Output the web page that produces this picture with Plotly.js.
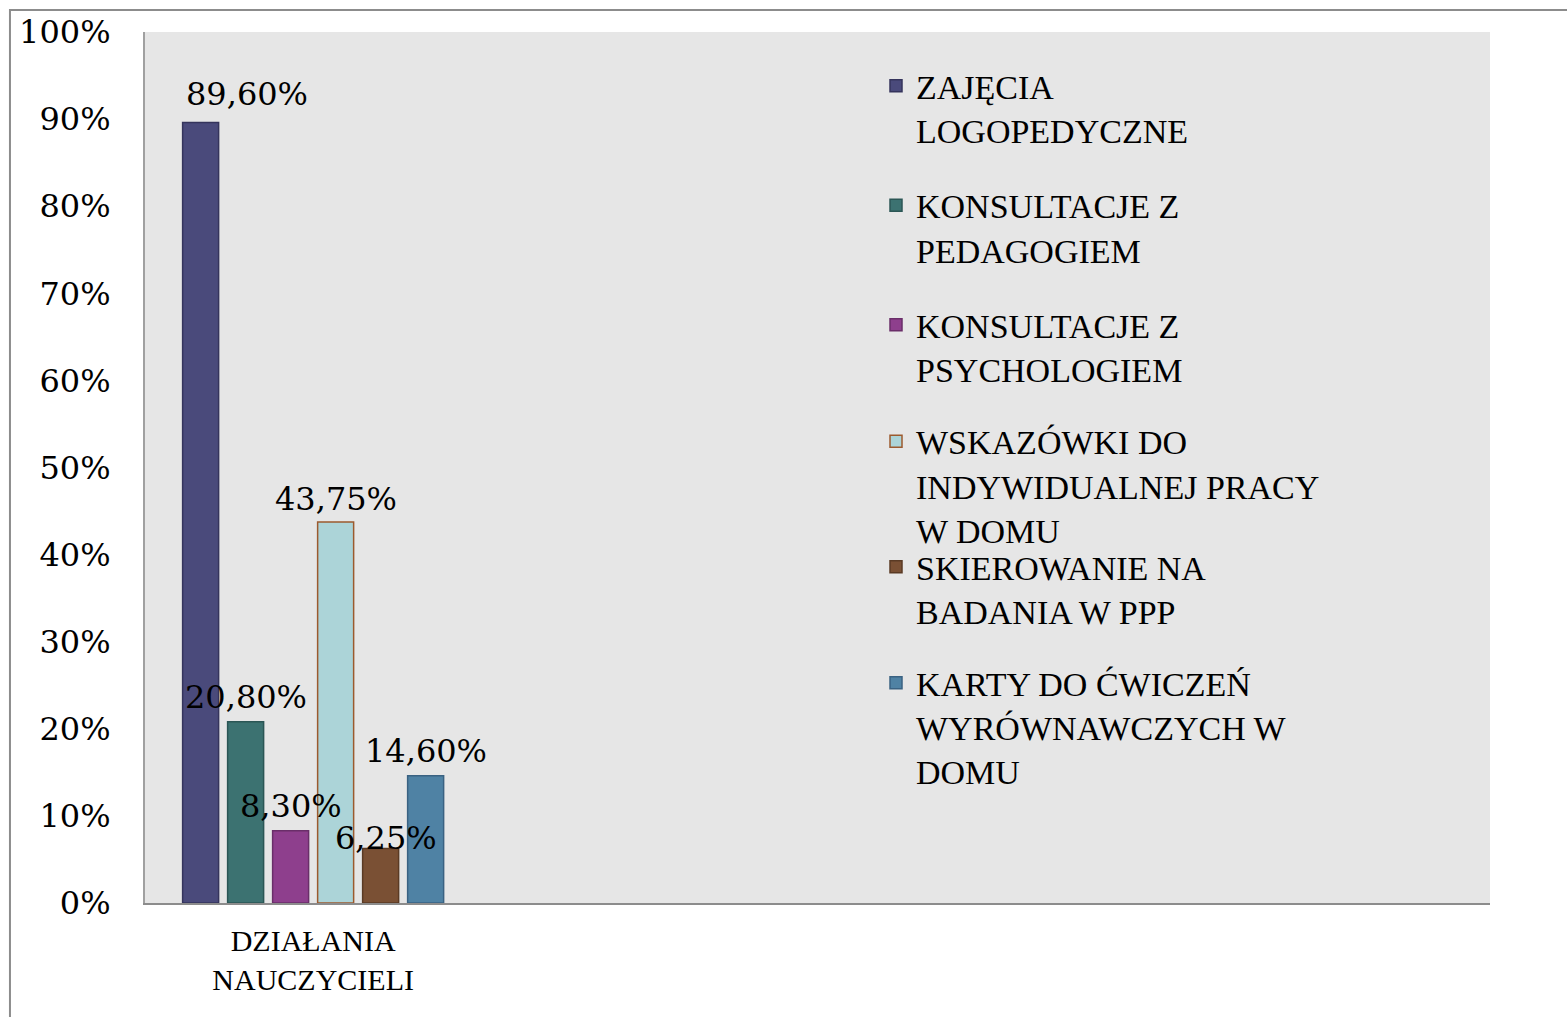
<!DOCTYPE html>
<html>
<head>
<meta charset="utf-8">
<script src="https://cdn.plot.ly/plotly-3.0.1.min.js"></script>
<style>html,body{margin:0;padding:0;background:#fff;}#chart{width:1567px;height:1017px;}</style>
</head>
<body>
<div id="chart"></div>
<script>
const categories = ['DZIAŁANIA<br>NAUCZYCIELI'];
const categoryPositions = [0];
const seriesNames = [
  'ZAJĘCIA<br>LOGOPEDYCZNE',
  'KONSULTACJE Z<br>PEDAGOGIEM',
  'KONSULTACJE Z<br>PSYCHOLOGIEM',
  'WSKAZÓWKI DO<br>INDYWIDUALNEJ PRACY<br>W DOMU',
  'SKIEROWANIE NA<br>BADANIA W PPP',
  'KARTY DO ĆWICZEŃ<br>WYRÓWNAWCZYCH W<br>DOMU'
];
const seriesValues = [89.6, 20.8, 8.3, 43.75, 6.25, 14.6];

// styling (not data)
const fillColors = ['#4a4a7b', '#3c7271', '#8e3f8d', '#acd4d8', '#7a5034', '#4f82a4'];
const lineColors = ['#35345c', '#2b5655', '#6a2e69', '#9c5a2e', '#5a3a24', '#3a6282'];
const labelXShift = [46, 0, 0, 0, 5, 0];
const labelYShift = [8, 4, 4, 2, -10, 4];
const legendTops = [0.971, 0.834, 0.6966, 0.5631, 0.4188, 0.2856];
const BARGAP = 0.197;

const numFont = {family: 'DejaVu Serif', size: 32, color: '#000'};
const txtFont = {family: 'Liberation Serif', size: 34, color: '#000'};

const traces = seriesNames.map((name, i) => ({
  type: 'bar',
  name: name,
  x: categoryPositions,
  y: [seriesValues[i]],
  marker: {color: fillColors[i], line: {color: lineColors[i], width: 1.5}},
  legend: i === 0 ? 'legend' : 'legend' + (i + 1),
  hoverinfo: 'skip'
}));

// data labels as annotations, positioned at each bar's group slot
const nSeries = seriesValues.length;
const slot = (1 - BARGAP) / nSeries;
const annotations = seriesValues.map((v, i) => ({
  x: categoryPositions[0] + (i - (nSeries - 1) / 2) * slot,
  y: v,
  xref: 'x', yref: 'y',
  text: v.toFixed(2).replace('.', ',') + '%',
  showarrow: false,
  xanchor: 'center', yanchor: 'bottom',
  xshift: labelXShift[i], yshift: labelYShift[i],
  font: numFont
}));

const layout = {
  width: 1567,
  height: 1017,
  margin: {l: 145, r: 77, t: 32, b: 114},
  paper_bgcolor: '#ffffff',
  plot_bgcolor: '#e6e6e6',
  separators: ',.',
  barmode: 'group',
  bargap: BARGAP,
  bargroupgap: 0.2,
  xaxis: {
    type: 'linear',
    range: [-0.5, 3.5],
    tickvals: categoryPositions,
    ticktext: categories,
    showgrid: false,
    zeroline: false,
    showline: true,
    linecolor: '#8c8c8c',
    linewidth: 2,
    ticks: '',
    ticklabelstandoff: 10,
    tickfont: {family: 'Liberation Serif', size: 30, color: '#000'},
    fixedrange: true
  },
  yaxis: {
    range: [0, 100],
    dtick: 10,
    ticksuffix: '%',
    showgrid: false,
    zeroline: false,
    showline: true,
    linecolor: '#a0a0a0',
    linewidth: 2,
    ticks: '',
    ticklabelstandoff: 26,
    tickfont: numFont,
    fixedrange: true
  },
  annotations: annotations,
  shapes: [{
    type: 'rect', xref: 'paper', yref: 'paper',
    x0: -0.1004, x1: 1.2, y0: -0.3, y1: 1.0253,
    line: {color: '#8c8c8c', width: 2}, fillcolor: 'rgba(0,0,0,0)', layer: 'below'
  }],
  showlegend: true
};

legendTops.forEach((top, i) => {
  const key = i === 0 ? 'legend' : 'legend' + (i + 1);
  layout[key] = {
    x: 0.5435, xanchor: 'left',
    y: top, yanchor: 'top',
    valign: 'top',
    bgcolor: 'rgba(0,0,0,0)',
    font: txtFont,
    itemclick: false, itemdoubleclick: false
  };
});

Plotly.newPlot('chart', traces, layout, {displayModeBar: false, staticPlot: true});
</script>
</body>
</html>
